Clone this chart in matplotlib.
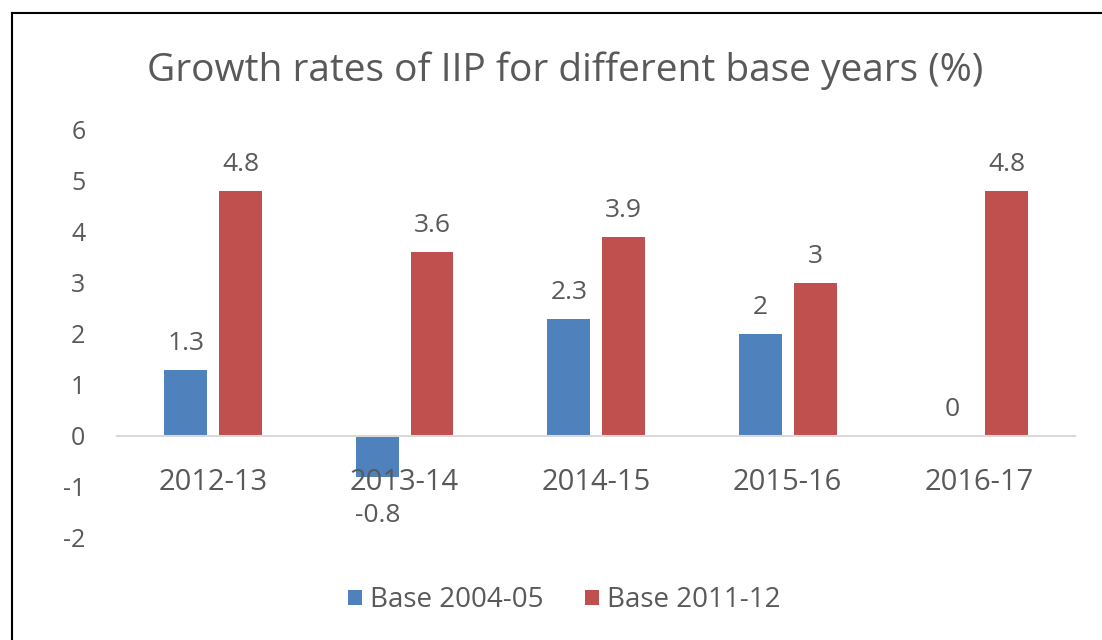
import matplotlib.pyplot as plt
from matplotlib.lines import Line2D
import numpy as np

# data
years = ["2012-13", "2013-14", "2014-15", "2015-16", "2016-17"]
base_2004 = [1.3, -0.8, 2.3, 2, 0]
base_2011 = [4.8, 3.6, 3.9, 3, 4.8]
series_names = ["Base 2004-05", "Base 2011-12"]

blue = "#4F81BD"
red = "#C0504D"
grey = "#595959"

plt.rcParams["font.family"] = ["Open Sans", "DejaVu Sans"]
plt.rcParams["axes.unicode_minus"] = False

fig = plt.figure(figsize=(11.02, 6.4), dpi=100)
ax = fig.add_axes([0.1065, 0.1594, 0.869, 0.6375])

x = np.arange(len(years))
w = 0.224
off = 0.143
b1 = ax.bar(x - off, base_2004, w, color=blue, label=series_names[0])
b2 = ax.bar(x + off, base_2011, w, color=red, label=series_names[1])

# data labels
for bars, vals in ((b1, base_2004), (b2, base_2011)):
    for rect, v in zip(bars, vals):
        cx = rect.get_x() + rect.get_width() / 2
        if v < 0:
            ax.annotate("%g" % v, (cx, v), xytext=(0, -19), textcoords="offset points",
                        ha="center", va="top", fontsize=19, color=grey)
        else:
            ax.annotate("%g" % v, (cx, v), xytext=(0, 10), textcoords="offset points",
                        ha="center", va="bottom", fontsize=19, color=grey)

ax.set_xlim(-0.5, len(years) - 0.5)
ax.set_ylim(-2, 6)
ax.set_yticks(range(-2, 7))
ax.set_xticks(x)
ax.set_xticklabels(years)

for s in ("top", "right", "left"):
    ax.spines[s].set_visible(False)
ax.spines["bottom"].set_position(("data", 0))
ax.spines["bottom"].set_color("#D9D9D9")
ax.spines["bottom"].set_linewidth(1.5)
ax.tick_params(axis="x", length=0, pad=23, labelsize=21, labelcolor=grey)
ax.tick_params(axis="y", length=0, pad=23, labelsize=18, labelcolor=grey)

fig.text(0.513, 0.89, "Growth rates of IIP for different base years (%)",
         ha="center", va="center", fontsize=28, color=grey)

fig.legend(loc="center", bbox_to_anchor=(0.512, 0.062), ncol=2, frameon=False,
           fontsize=20, labelcolor=grey, handlelength=0.5, handleheight=0.5,
           handletextpad=0.3, columnspacing=1.5)

# outer frame lines
fig.add_artist(Line2D([0.011, 0.011], [0, 0.98], color="black", lw=1.5, transform=fig.transFigure))
fig.add_artist(Line2D([0.011, 1], [0.98, 0.98], color="black", lw=1.5, transform=fig.transFigure))

fig.savefig("out.png", dpi=100)
